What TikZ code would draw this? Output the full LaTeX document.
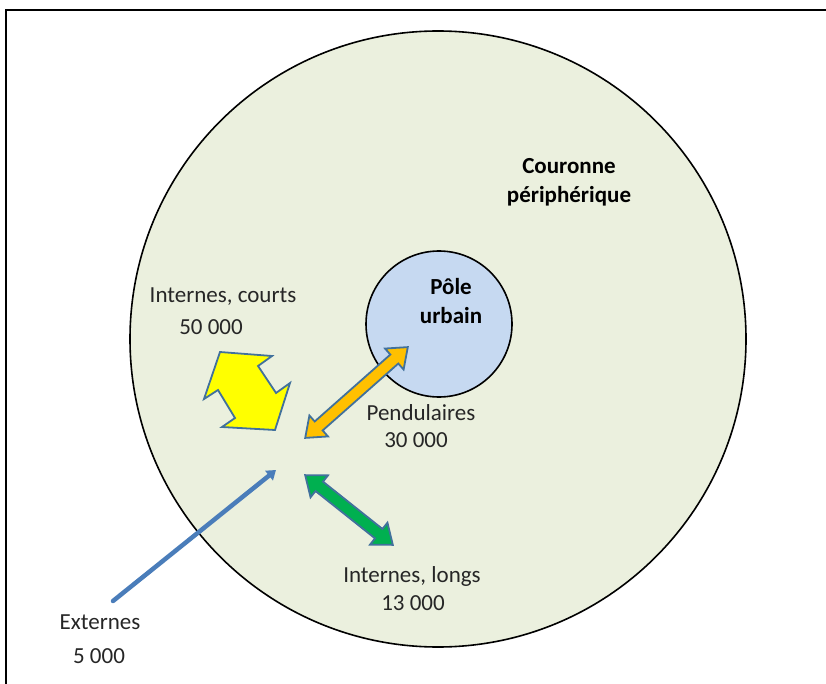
\documentclass[tikz,border=0pt]{standalone}
\usepackage{fontspec}
\setmainfont{Carlito}
\usetikzlibrary{arrows.meta, positioning}

\definecolor{crownfill}{HTML}{EBF0DE}
\definecolor{polefill}{HTML}{C6D9F1}
\definecolor{shapeline}{HTML}{41719C}
\definecolor{flowblue}{HTML}{4A7DBA}
\definecolor{flowyellow}{HTML}{FFFF00}
\definecolor{floworange}{HTML}{FFC000}
\definecolor{flowgreen}{HTML}{00B050}
\definecolor{labeltext}{HTML}{262626}

\begin{document}
\begin{tikzpicture}[
    x=1pt, y=-1pt,
    zone/.style={circle, draw=black, line width=1.6pt, inner sep=0pt},
    txt/.style={font=\fontsize{23}{28}\selectfont, text=labeltext, inner sep=0pt, align=center},
    zonetitle/.style={txt, font=\fontsize{23}{29}\selectfont\bfseries, text=black},
    flowshape/.style={draw=shapeline, line width=1.8pt, line join=miter},
    extarrow/.style={draw=flowblue, line width=4.5pt, line cap=round, -{Triangle[length=9pt, width=12pt]}},
    pics/dblarrow/.style={code={
        \draw[pic actions] (-#1/2,0) -- (-#1/2+18,-14) -- (-#1/2+18,-6) -- (#1/2-18,-6)
            -- (#1/2-18,-14) -- (#1/2,0) -- (#1/2-18,14) -- (#1/2-18,6)
            -- (-#1/2+18,6) -- (-#1/2+18,14) -- cycle;
    }}
]
\useasboundingbox (0,0) rectangle (826,684);
\clip (0,0) rectangle (826,684);

% Frame
\draw[line width=2pt] (6,10) rectangle (840,700);

% Zones
\node[zone, fill=crownfill, minimum size=616] (crownzone) at (438,339) {};
\node[zone, fill=polefill, minimum size=146] (polezone) at (439,324) {};

% Flows
\draw[flowshape, fill=flowyellow] (220,352) -- (272,356) -- (258,366) -- (276,393)
    -- (290,383) -- (275,430) -- (222,427) -- (235,418) -- (218,390) -- (204,399) -- cycle;
\pic[flowshape, fill=floworange, rotate=41.5] (pendflow) at (356.5,392.5) {dblarrow=137};
\pic[flowshape, fill=flowgreen, rotate=-38.5] (longflow) at (349,510) {dblarrow=112};

\coordinate (extstart) at (113,601);
\coordinate (hub) at (276,470);
\draw[extarrow] (extstart) -- (hub);

% Labels
\node[zonetitle] (crown) at (569,182) {Couronne\\périphérique};
\node[zonetitle] (pole) at (451,301) {Pôle\\urbain};

\node[txt] (courts) at (223,297) {Internes, courts};
\node[txt] (courtsval) at (211,327) {50 000};
\node[txt] (pendul) at (421,413) {Pendulaires};
\node[txt] (pendulval) at (416,440) {30 000};
\node[txt] (longs) at (412,576) {Internes, longs};
\node[txt] (longsval) at (413,603) {13 000};
\node[txt] (ext) at (100,622) {Externes};
\node[txt] (extval) at (99,656) {5 000};

\end{tikzpicture}
\end{document}
